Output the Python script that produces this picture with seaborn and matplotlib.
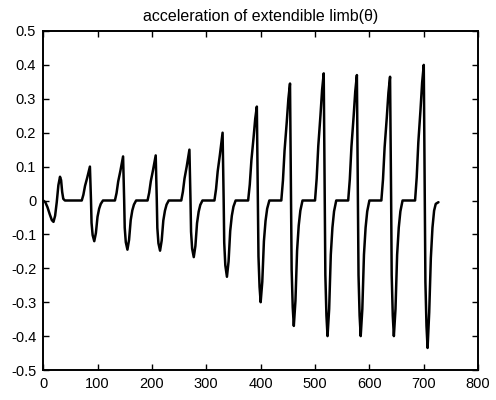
import numpy as np
import pandas as pd
import matplotlib
matplotlib.use("Agg")
import matplotlib.pyplot as plt
import seaborn as sns

# Time samples (x) and acceleration values (y)
time_vals = [
    0, 4, 8, 12, 16, 19, 22, 25, 28, 31, 33, 35, 37, 40,
    71, 74, 77, 81, 84, 86, 87, 88, 89, 91, 94, 97, 100, 103, 106, 110,
    132, 135, 138, 142, 145, 147, 148, 149, 150, 152, 155, 158, 161, 164, 167, 171,
    192, 195, 198, 202, 205, 207, 208, 209, 210, 212, 215, 218, 221, 224, 227, 231,
    254, 257, 260, 264, 267, 269, 270, 271, 272, 274, 277, 280, 283, 286, 289, 293,
    315, 318, 321, 325, 328, 330, 331, 332, 333, 335, 338, 341, 344, 347, 350, 354,
    377, 380, 383, 387, 390, 393, 394, 395, 396, 398, 400, 403, 406, 409, 412, 416,
    438, 441, 444, 448, 451, 454, 455, 456, 457, 459, 461, 464, 467, 470, 473, 477,
    500, 503, 506, 510, 513, 516, 517, 518, 519, 521, 523, 526, 529, 532, 535, 539,
    561, 564, 567, 571, 574, 577, 578, 579, 580, 582, 584, 587, 590, 593, 596, 600,
    622, 625, 628, 632, 635, 638, 639, 640, 641, 643, 645, 648, 651, 654, 657, 661,
    684, 687, 690, 694, 697, 700, 701, 702, 703, 705, 707, 710, 713, 716, 719, 722, 727,
]
accel_vals = [
    0.0, -0.005, -0.02, -0.04, -0.058, -0.063, -0.045, -0.005, 0.045, 0.07, 0.06, 0.025, 0.005, 0.0,
    0.0, 0.017, 0.043, 0.067, 0.087, 0.100, 0.050, 0.0, -0.066, -0.102, -0.120, -0.096, -0.048, -0.024, -0.010, 0.0,
    0.0, 0.022, 0.056, 0.087, 0.113, 0.130, 0.065, 0.0, -0.080, -0.123, -0.145, -0.116, -0.058, -0.029, -0.012, 0.0,
    0.0, 0.023, 0.057, 0.089, 0.116, 0.133, 0.067, 0.0, -0.081, -0.126, -0.148, -0.118, -0.059, -0.030, -0.012, 0.0,
    0.0, 0.026, 0.065, 0.100, 0.130, 0.150, 0.075, 0.0, -0.092, -0.142, -0.167, -0.134, -0.067, -0.033, -0.013, 0.0,
    0.0, 0.034, 0.086, 0.134, 0.174, 0.200, 0.100, 0.0, -0.124, -0.191, -0.225, -0.180, -0.090, -0.045, -0.018, 0.0,
    0.0, 0.047, 0.119, 0.186, 0.241, 0.277, 0.139, 0.0, -0.165, -0.255, -0.300, -0.240, -0.120, -0.060, -0.024, 0.0,
    0.0, 0.059, 0.148, 0.231, 0.300, 0.345, 0.173, 0.0, -0.204, -0.315, -0.370, -0.296, -0.148, -0.074, -0.030, 0.0,
    0.0, 0.064, 0.161, 0.251, 0.326, 0.375, 0.188, 0.0, -0.220, -0.340, -0.400, -0.320, -0.160, -0.080, -0.032, 0.0,
    0.0, 0.063, 0.159, 0.248, 0.322, 0.370, 0.185, 0.0, -0.220, -0.340, -0.400, -0.320, -0.160, -0.080, -0.032, 0.0,
    0.0, 0.062, 0.157, 0.245, 0.318, 0.365, 0.183, 0.0, -0.220, -0.340, -0.400, -0.320, -0.160, -0.080, -0.032, 0.0,
    0.0, 0.068, 0.172, 0.268, 0.348, 0.400, 0.200, 0.0, -0.240, -0.370, -0.435, -0.330, -0.170, -0.080, -0.030, -0.010, -0.005,
]

x_ticks = [0, 100, 200, 300, 400, 500, 600, 700, 800]
y_ticks = [-0.5, -0.4, -0.3, -0.2, -0.1, 0, 0.1, 0.2, 0.3, 0.4, 0.5]
y_tick_labels = ["-0.5", "-0.4", "-0.3", "-0.2", "-0.1", "0", "0.1", "0.2", "0.3", "0.4", "0.5"]
title_text = "acceleration of extendible limb(θ)"

sns.set_theme(style="white")
plt.rcParams["font.family"] = ["Liberation Sans", "DejaVu Sans"]

df = pd.DataFrame({"t": time_vals, "a": accel_vals})

fig = plt.figure(figsize=(4.96, 4.0), dpi=100)
ax = fig.add_axes([0.087, 0.075, 0.877, 0.8475])
sns.lineplot(data=df, x="t", y="a", sort=False, color="black", linewidth=1.8, ax=ax, estimator=None)

ax.set_xlim(0, 800)
ax.set_ylim(-0.5, 0.5)
ax.set_xticks(x_ticks)
ax.set_yticks(y_ticks)
ax.set_yticklabels(y_tick_labels)
ax.set_xlabel("")
ax.set_ylabel("")
ax.tick_params(direction="in", length=4, width=1, colors="black", labelsize=10.5,
               top=True, right=True, bottom=True, left=True, pad=5)
for s in ax.spines.values():
    s.set_visible(True)
    s.set_color("black")
    s.set_linewidth(1.4)
ax.set_title(title_text, fontsize=11.5, color="black", pad=7)

fig.savefig("out.png", dpi=100, facecolor="white")
